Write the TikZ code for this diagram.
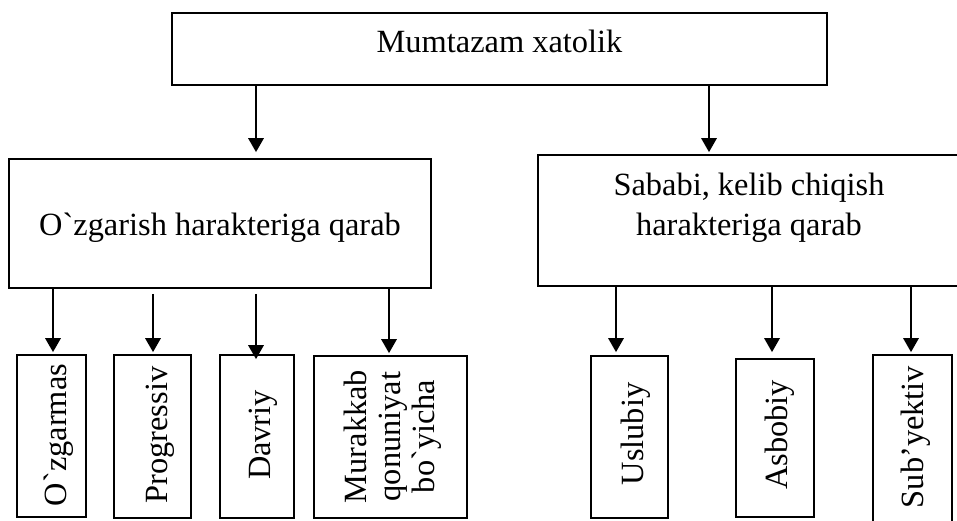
\documentclass[tikz,border=0pt]{standalone}
\usepackage{fontspec}
\setmainfont{Liberation Serif}[Ligatures=TeXOff]
\usetikzlibrary{arrows.meta}
\begin{document}
\begin{tikzpicture}[x=1pt,y=-1pt,
  frame/.style={draw, rectangle, line width=1.8pt, inner sep=0pt},
  lbl/.style={font=\fontsize{32.4}{40}\selectfont, inner sep=0pt},
  vlbl/.style={lbl, rotate=90, anchor=base},
  arr/.style={-{Triangle[width=15.5pt,length=14pt]}, line width=1.8pt}]
\useasboundingbox (0,0) rectangle (957,521);

% main box
\node[frame, minimum width=655pt, minimum height=72pt] (top) at (499.5,49) {};
\node[lbl, anchor=base] (toptext) at (499.5,53) {Mumtazam xatolik};

% two classification boxes
\node[frame, minimum width=422pt, minimum height=129pt] (change) at (220,223.5) {};
\node[lbl, anchor=base] (changetext) at (220,236) {O`zgarish harakteriga qarab};

\node[frame, minimum width=422pt, minimum height=131pt] (cause) at (749,220.5) {};
\node[lbl, align=center] (causetext) at (749,207.5) {Sababi, kelib chiqish\\harakteriga qarab};

% kinds by character of change
\node[frame, minimum width=69pt, minimum height=162pt] (k1) at (51.5,436) {};
\node[vlbl] (k1t) at (66.5,435) {O`zgarmas};
\node[frame, minimum width=77pt, minimum height=163pt] (k2) at (152.5,436.5) {};
\node[vlbl] (k2t) at (167,435) {Progressiv};
\node[frame, minimum width=74pt, minimum height=163pt] (k3) at (257,436.5) {};
\node[vlbl] (k3t) at (270,435) {Davriy};
\node[frame, minimum width=153pt, minimum height=162pt] (k4) at (390.5,437) {};
\node[lbl, rotate=90, align=center, font=\fontsize{32.4}{34}\selectfont] (k4t) at (392.5,436.5) {Murakkab\\qonuniyat\\bo`yicha};

% kinds by origin
\node[frame, minimum width=77pt, minimum height=162pt] (c1) at (629.5,437) {};
\node[vlbl] (c1t) at (643,434) {Uslubiy};
\node[frame, minimum width=78pt, minimum height=158pt] (c2) at (775,438) {};
\node[vlbl] (c2t) at (787,435) {Asbobiy};
\node[frame, minimum width=79pt, minimum height=175pt] (c3) at (912.5,442.5) {};
\node[vlbl] (c3t) at (923,437) {Sub’yektiv};

% arrow columns
\coordinate (xa) at (256,0);
\coordinate (xb) at (709,0);
\coordinate (x1) at (53,0);
\coordinate (x2) at (153,0);
\coordinate (x3) at (256,0);
\coordinate (x4) at (389,0);
\coordinate (x5) at (616,0);
\coordinate (x6) at (772,0);
\coordinate (x7) at (911,0);

\draw[arr, shorten >=6pt] (top.south -| xa) -- (change.north -| xa);
\draw[arr, shorten >=2pt] (top.south -| xb) -- (cause.north -| xb);

\draw[arr, shorten >=2pt] (change.south -| x1) -- (k1.north -| x1);
\draw[arr, shorten <=5pt, shorten >=2pt] (change.south -| x2) -- (k2.north -| x2);
\draw[arr, shorten <=5pt, shorten >=-5pt] (change.south -| x3) -- (k3.north -| x3);
\draw[arr, shorten >=2pt] (change.south -| x4) -- (k4.north -| x4);

\draw[arr, shorten >=3pt] (cause.south -| x5) -- (c1.north -| x5);
\draw[arr, shorten >=6pt] (cause.south -| x6) -- (c2.north -| x6);
\draw[arr, shorten >=2pt] (cause.south -| x7) -- (c3.north -| x7);
\end{tikzpicture}
\end{document}
